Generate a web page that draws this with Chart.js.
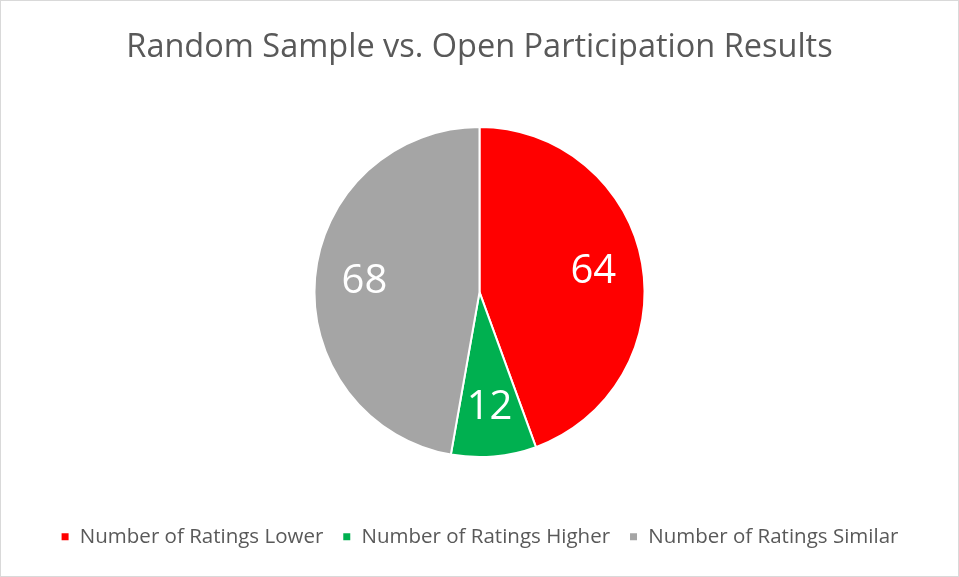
<!DOCTYPE html>
<html>
<head>
<meta charset="utf-8">
<script src="https://cdn.jsdelivr.net/npm/chart.js@4"></script>
<style>
  body { margin: 0; background: #fff; }
  #wrap { width: 959px; height: 577px; box-sizing: border-box; border: 1px solid #d9d9d9; }
</style>
</head>
<body>
<div id="wrap"><canvas id="pie"></canvas></div>
<script>
const categories = ['Number of Ratings Lower', 'Number of Ratings Higher', 'Number of Ratings Similar'];
const counts = [64, 12, 68];
const sliceColors = ['#ff0000', '#00b050', '#a5a5a5'];

// draws the white numbers inside each slice
const sliceLabels = {
    id: 'sliceLabels',
    afterDatasetsDraw(chart) {
        const ctx = chart.ctx;
        const meta = chart.getDatasetMeta(0);
        ctx.save();
        ctx.fillStyle = '#ffffff';
        ctx.font = '40px "Open Sans"';
        ctx.textAlign = 'center';
        ctx.textBaseline = 'middle';
        meta.data.forEach((arc, i) => {
            const p = arc.getProps(['x', 'y', 'startAngle', 'endAngle', 'outerRadius'], true);
            const mid = (p.startAngle + p.endAngle) / 2;
            const r = p.outerRadius * 0.7;
            ctx.fillText(String(counts[i]), p.x + Math.cos(mid) * r, p.y + Math.sin(mid) * r);
        });
        ctx.restore();
    }
};

const ctx = document.getElementById('pie').getContext('2d');
new Chart(ctx, {
    type: 'pie',
    data: {
        labels: categories,
        datasets: [{
            data: counts,
            backgroundColor: sliceColors,
            borderColor: '#ffffff',
            borderWidth: 2
        }]
    },
    options: {
        responsive: true,
        maintainAspectRatio: false,
        animation: false,
        layout: { padding: { bottom: 19 } },
        plugins: {
            title: {
                display: true,
                text: 'Random Sample vs. Open Participation Results',
                color: '#595959',
                font: { family: 'Open Sans', size: 32.5, weight: 'normal' },
                padding: { top: 27, bottom: 59 }
            },
            legend: {
                position: 'bottom',
                title: { display: true, text: '', padding: { top: 35, bottom: 0 } },
                labels: {
                    color: '#595959',
                    font: { family: 'Open Sans', size: 20.5 },
                    boxWidth: 9,
                    boxHeight: 9,
                    padding: 19
                }
            },
            tooltip: { enabled: false }
        }
    },
    plugins: [sliceLabels]
});
</script>
</body>
</html>
